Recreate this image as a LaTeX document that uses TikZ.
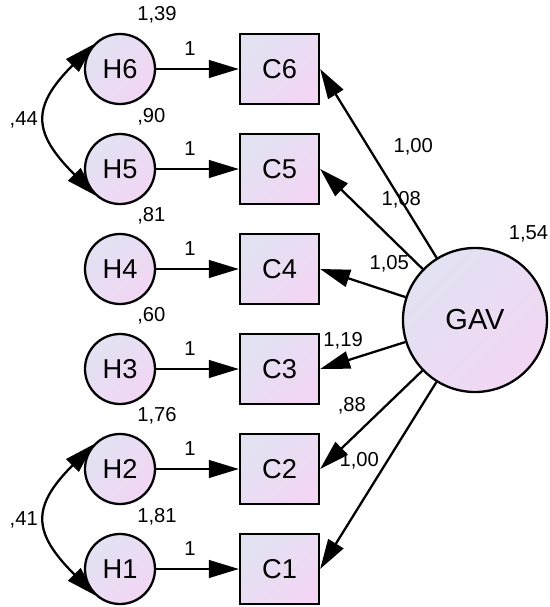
\documentclass[tikz,border=0pt]{standalone}
\usepackage{fontspec}
\setmainfont{Liberation Sans}
\usetikzlibrary{arrows.meta}
\definecolor{lavtop}{RGB}{226,226,242}
\definecolor{lavbot}{RGB}{242,214,244}

\begin{document}
\begin{tikzpicture}[
    err/.style={circle, draw=black, line width=1.3pt, minimum size=1.4cm, inner sep=0pt,
      top color=lavtop, bottom color=lavbot, shading angle=45, font=\fontsize{15.5}{15.5}\selectfont},
    obs/.style={rectangle, draw=black, line width=1.3pt, minimum width=1.58cm, minimum height=1.4cm,
      top color=lavtop, bottom color=lavbot, shading angle=45, font=\fontsize{15.5}{15.5}\selectfont},
    lat/.style={circle, draw=black, line width=1.3pt, minimum size=2.88cm, inner sep=0pt,
      top color=lavtop, bottom color=lavbot, shading angle=45, font=\fontsize{16.5}{16.5}\selectfont},
    num/.style={font=\fontsize{11.5}{11.5}\selectfont, inner sep=2pt},
    load/.style={line width=1.3pt, -{Triangle[length=17pt,width=10pt]}},
    cov/.style={line width=1.3pt, {Triangle[length=17pt,width=10pt]}-{Triangle[length=17pt,width=10pt]}}
  ]
  \useasboundingbox (0,0) rectangle (11,12.14);

  \node[err] (h6) at (2.4,10.76) {H6};
  \node[err] (h5) at (2.4,8.76) {H5};
  \node[err] (h4) at (2.4,6.76) {H4};
  \node[err] (h3) at (2.4,4.76) {H3};
  \node[err] (h2) at (2.4,2.76) {H2};
  \node[err] (h1) at (2.4,0.76) {H1};

  \node[obs] (c6) at (5.59,10.76) {C6};
  \node[obs] (c5) at (5.59,8.76) {C5};
  \node[obs] (c4) at (5.59,6.76) {C4};
  \node[obs] (c3) at (5.59,4.76) {C3};
  \node[obs] (c2) at (5.59,2.76) {C2};
  \node[obs] (c1) at (5.59,0.76) {C1};

  \node[lat] (gav) at (9.5,5.74) {GAV};

  % variances
  \node[num, anchor=west] (v6) at ([shift={(0.27,0.36)}]h6.north) {1,39};
  \node[num, anchor=west] (v5) at ([shift={(0.27,0.33)}]h5.north) {,90};
  \node[num, anchor=west] (v4) at ([shift={(0.27,0.35)}]h4.north) {,81};
  \node[num, anchor=west] (v3) at ([shift={(0.27,0.35)}]h3.north) {,60};
  \node[num, anchor=west] (v2) at ([shift={(0.27,0.35)}]h2.north) {1,76};
  \node[num, anchor=west] (v1) at ([shift={(0.27,0.33)}]h1.north) {1,81};
  \node[num, anchor=west] (v0) at ([shift={(0.6,0.26)}]gav.north) {1,54};

  % errors
  \draw[load] (h6) -- node[num, above=0.18cm, pos=0.41] (w6) {1} (c6);
  \draw[load] (h5) -- node[num, above=0.18cm, pos=0.41] (w5) {1} (c5);
  \draw[load] (h4) -- node[num, above=0.18cm, pos=0.41] (w4) {1} (c4);
  \draw[load] (h3) -- node[num, above=0.18cm, pos=0.41] (w3) {1} (c3);
  \draw[load] (h2) -- node[num, above=0.18cm, pos=0.41] (w2) {1} (c2);
  \draw[load] (h1) -- node[num, above=0.18cm, pos=0.41] (w1) {1} (c1);

  % loadings
  \draw[load] (gav) -- node[num, right=0.42cm, pos=0.59] (l6) {1,00} (c6.east);
  \draw[load] (gav) -- node[num, right=0.5cm, pos=0.69] (l5) {1,08} (c5.east);
  \draw[load] (gav) -- node[num, above=0.3cm, pos=0.19] (l4) {1,05} (c4.east);
  \draw[load] (gav) -- node[num, above=0.15cm, pos=0.73] (l3) {1,19} (c3.east);
  \draw[load] (gav) -- node[num, left=0.3cm, pos=0.36] (l2) {,88} (c2.east);
  \draw[load] (gav) -- node[num, left=0.08cm, pos=0.42] (l1) {1,00} (c1.east);

  % covariances
  \draw[cov] (h6.137) to[out=225, in=135, looseness=1.5] node[num, left=0.1cm] (k65) {,44} (h5.227);
  \draw[cov] (h2.137) to[out=225, in=135, looseness=1.5] node[num, left=0.1cm] (k21) {,41} (h1.227);
\end{tikzpicture}
\end{document}
